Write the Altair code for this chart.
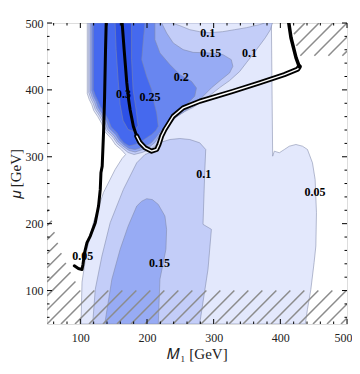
import altair as alt
import pandas as pd

# ---------------- values (data units: M1, mu in GeV) ----------------
LIGHT = [(110.4, 500), (386.6, 500), (388.5, 300.9), (391, 308.4), (398.5, 306), (406, 310.9),
         (413.4, 315.8), (423.4, 318.4), (433.3, 315.8), (440.7, 310.9), (448.2, 291), (452.2, 266.1),
         (454.2, 216.4), (453.3, 166.6), (450.7, 142.2), (445.8, 101.9), (440.7, 72.1), (437.5, 50),
         (101, 50), (102.5, 112.7), (110, 162), (119.9, 202.7), (134.8, 246.7), (152.2, 281),
         (162.7, 297.5), (167.9, 303.4), (161.9, 310.2), (153, 317.6), (147, 326.6), (136.6, 337.8),
         (132.1, 349.7), (126.1, 360.2), (120.1, 369.1), (117.2, 378), (113.4, 385.5), (110.4, 394.5)]

LOW10 = [(118.5, 50), (122.4, 102), (132.4, 151.6), (144.8, 201.5), (164.6, 251.2), (184.6, 291),
         (197, 303.4), (207.5, 307.2), (216.4, 314.6), (222.4, 322.1), (234.3, 325.8), (249.3, 327.3),
         (264.2, 325.8), (279.1, 320.9), (288.1, 310.9), (286.6, 276.6), (284, 199), (296.6, 191.5),
         (291.5, 131.8), (279, 50)]

LOW15 = [(136.6, 50), (147.3, 116.9), (159.7, 161.7), (171.6, 196), (184.6, 226.3), (192, 233.5),
         (199.5, 237.3), (208, 236), (216.9, 228.8), (226.9, 211.4), (229.4, 191.5), (228.4, 161.7),
         (219.4, 116.9), (216.9, 50)]

UP10 = [(112.7, 500), (112.7, 396), (115.7, 387), (119.4, 379.6), (122.4, 370.6), (128.4, 361.7),
        (134.3, 351.3), (138.8, 339.3), (149.3, 328.9), (155.2, 319.9), (164.2, 312.4), (171.6, 306.4),
        (180.6, 303.4), (192.5, 306.4), (204.5, 310.9), (213.4, 316.9), (219.4, 327.3), (226.9, 339.3),
        (234.3, 349.7), (244.8, 360.2), (256.7, 367.6), (268.7, 373.6), (279.1, 380.3), (294, 391.5),
        (309, 403.4), (323.9, 413.9), (338.8, 427.3), (349.2, 440.7), (359.7, 454.2), (368.7, 466.1),
        (377.6, 478.1), (385.1, 490), (388.1, 500)]

NOTCH = [(237.3, 500), (249.3, 496), (264.2, 490), (279.1, 487), (294, 485.5), (313.4, 487),
         (331.3, 490), (349.2, 493), (368.7, 497.5), (376.1, 500)]

UP15 = [(114.9, 500), (221.9, 500), (229.4, 485.1), (239.3, 470.2), (254.2, 460.2), (269.1, 456.1),
        (294, 455.2), (313.9, 452.7), (326.4, 445.2), (328.8, 435.2), (323.9, 425.4), (311.5, 415.4),
        (296.6, 403), (284, 390.4), (274.2, 380.3), (264.2, 373.6), (253.7, 366.1), (241.8, 357.9),
        (231.3, 348.2), (223.9, 339.3), (217.2, 329.6), (211.9, 321.3), (204.5, 315.4), (194, 310.9),
        (182.1, 307.2), (173.1, 309.4), (165.7, 314.6), (156.7, 322.1), (150.7, 331), (141, 340.8),
        (136.6, 352.7), (130.6, 363.1), (124.6, 372.1), (121.6, 381), (117.9, 388.5), (114.9, 397.5)]

UP20 = [(117.2, 500), (211.9, 500), (211.9, 475.1), (219.4, 455.2), (234.3, 437.8), (249.3, 422.8),
        (266.7, 412.8), (274.2, 403), (271.6, 390.4), (259.2, 378.1), (244.3, 365.7), (234.3, 355.7),
        (226.9, 345.7), (219.4, 337), (213.4, 328.8), (206, 320.6), (194, 314.6), (182.1, 310.9),
        (173.1, 312.4), (165.7, 317.6), (158.2, 325.1), (153, 333.3), (143.3, 342.8), (138.8, 354.2),
        (132.8, 364.6), (126.9, 373.6), (123.9, 382.5), (120.1, 390), (117.2, 399)]

UP25 = [(119.4, 500), (197, 500), (194.5, 475.1), (192.1, 445.2), (199.5, 420.3), (207, 400.4),
        (209.4, 385.5), (214.5, 365.7), (216.9, 345.7), (213.4, 339.3), (207, 333.3), (199.5, 328.4),
        (192.1, 323.3), (182.1, 318.4), (173.1, 316.1), (165.7, 320.6), (159.7, 327.3), (155.2, 335.5),
        (146.3, 344.5), (141.8, 355.7), (135.8, 366.1), (129.9, 375.1), (126.1, 384), (122.4, 391.5),
        (119.4, 400.4)]

UP30 = [(152.2, 500), (176.9, 500), (176.9, 445.2), (179.1, 400.4), (183.6, 370.6), (186.6, 346.7),
        (180.6, 337.8), (171.6, 340.8), (164.2, 354.2), (159.7, 378), (156.7, 415.4), (153.7, 460.2)]

LINE_A = [(138.8, 500), (137.8, 460.2), (136.3, 385.5), (134.8, 335.8), (132.8, 286), (130.9, 276),
          (129.9, 251.2), (127.3, 226.3), (122.4, 201.5), (114.9, 181.5), (110, 171.6), (106.4, 156.7),
          (104, 139.3), (102.5, 131.5), (97, 133), (91, 137)]

LINE_B_TOP = [(162.7, 500), (165.7, 460.2), (169.7, 410.4), (172.4, 385.5), (174.6, 370.6),
              (179.5, 345.7), (184.6, 330.8)]
LINE_B_LOOP = [(184.6, 330.8), (189.5, 321.3), (197, 313.4), (207, 308.4), (214.5, 310.9),
               (217.9, 318.4), (221.9, 330.8), (226.9, 340.8), (239.3, 360.6), (254.2, 373.1),
               (279.1, 383), (328.8, 397.9), (368.7, 410.4), (406, 422.8), (426.1, 431), (428.4, 434.8)]
LINE_B_RIGHT = [(428.4, 434.8), (423.5, 448.2), (416, 478), (412.7, 500)]

HATCH_LOW = [(50, 50), (500, 50), (500, 100), (100, 100), (85, 128), (73, 152), (63, 180),
             (55, 214), (50, 228)]
HATCH_TOP = [(417, 500), (500, 500), (500, 451), (427, 451)]
HATCH_STEP = 21

LABEL_TEXT = ["0.1", "0.15", "0.1", "0.2", "0.25", "0.3", "0.1", "0.05", "0.05", "0.15"]
LABEL_X = [291, 295.5, 353.7, 251.5, 204.5, 164.9, 285, 452, 103.7, 218.7]
LABEL_Y = [485.5, 455.7, 455.7, 419.9, 390, 394.5, 275, 248, 151, 140.8]

X_MAJOR = [100, 200, 300, 400, 500]
Y_MAJOR = [100, 200, 300, 400, 500]
X_MINOR = [60, 80, 120, 140, 160, 180, 220, 240, 260, 280, 320, 340, 360, 380, 420, 440, 460, 480]
Y_MINOR = [60, 80, 120, 140, 160, 180, 220, 240, 260, 280, 320, 340, 360, 380, 420, 440, 460, 480]

C05, C10, C15, C20, C25, C30 = "#e3e8fc", "#c3cdf8", "#97abf4", "#6886f0", "#4569ee", "#2d51e6"

# ---------------- chart ----------------
W, H = 300, 301
FONT = "Liberation Serif"
xs = alt.Scale(domain=[50, 500], nice=False, zero=False)
ys = alt.Scale(domain=[50, 500], nice=False, zero=False)
xaxis = alt.Axis(values=X_MAJOR, title="𝑀₁  [GeV]", ticks=False, tickSize=0, domain=False, grid=False,
                 labelFont=FONT, labelFontSize=12, labelPadding=8, labelColor="#222",
                 titleFont=FONT, titleFontSize=15, titleFontWeight="normal", titleColor="#222",
                 titlePadding=3, labelFlush=True, labelFlushOffset=5)
yaxis = alt.Axis(values=Y_MAJOR, title="𝜇 [GeV]", ticks=False, tickSize=0, domain=False, grid=False,
                 labelFont=FONT, labelFontSize=12, labelPadding=4, labelColor="#222",
                 titleFont=FONT, titleFontSize=15, titleFontWeight="normal", titleColor="#222",
                 titlePadding=2, labelFlush=False)
X = alt.X("x:Q", scale=xs, axis=xaxis)
Y = alt.Y("y:Q", scale=ys, axis=yaxis)


def frame(pts):
    return pd.DataFrame({"x": [p[0] for p in pts], "y": [p[1] for p in pts], "i": list(range(len(pts)))})


def poly(pts, fill):
    return alt.Chart(frame(pts)).mark_line(
        interpolate="linear-closed", fill=fill, stroke="#7f89a8", strokeWidth=0.7,
        strokeOpacity=0.8, clip=True
    ).encode(x=X, y=Y, order="i:Q")


def curve(pts, width, color="black"):
    return alt.Chart(frame(pts)).mark_line(
        color=color, strokeWidth=width, clip=True, strokeCap="round", strokeJoin="round"
    ).encode(x=X, y=Y, order="i:Q")


def hatch_segments(region, step):
    rows = []
    n = len(region)
    for k in range(-40, 40):
        c = k * step  # line y = x + c
        ts = []
        for j in range(n):
            (x1, y1), (x2, y2) = region[j], region[(j + 1) % n]
            f1, f2 = y1 - x1 - c, y2 - x2 - c
            if (f1 > 0) != (f2 > 0):
                t = f1 / (f1 - f2)
                ts.append(x1 + t * (x2 - x1))
        ts.sort()
        for a, b in zip(ts[0::2], ts[1::2]):
            rows.append({"x": a, "y": a + c, "x2": b, "y2": b + c})
    return rows


hatch_df = pd.DataFrame(hatch_segments(HATCH_LOW, HATCH_STEP) + hatch_segments(HATCH_TOP, HATCH_STEP))
hatch = alt.Chart(hatch_df).mark_rule(color="#8c8c8c", strokeWidth=1.5, clip=True).encode(
    x=X, y=Y, x2="x2:Q", y2="y2:Q")

labels = alt.Chart(pd.DataFrame({"x": LABEL_X, "y": LABEL_Y, "t": LABEL_TEXT})).mark_text(
    font=FONT, fontSize=12, fontWeight="bold", color="black"
).encode(x=X, y=Y, text="t:N")


def xticks(vals, ln):
    d = pd.DataFrame({"x": vals})
    base = alt.Chart(d).mark_rule(color="black", strokeWidth=1)
    return [base.encode(x=X, y=alt.value(H), y2=alt.value(H - ln)),
            base.encode(x=X, y=alt.value(0), y2=alt.value(ln))]


def yticks(vals, ln):
    d = pd.DataFrame({"y": vals})
    base = alt.Chart(d).mark_rule(color="black", strokeWidth=1)
    return [base.encode(y=Y, x=alt.value(0), x2=alt.value(ln)),
            base.encode(y=Y, x=alt.value(W), x2=alt.value(W - ln))]


layers = [
    poly(LIGHT, C05), poly(LOW10, C10), poly(LOW15, C15),
    poly(UP10, C10), poly(NOTCH, C05), poly(UP15, C15), poly(UP20, C20), poly(UP25, C25), poly(UP30, C30),
    hatch,
    curve(LINE_A, 3), curve(LINE_B_TOP, 3), curve(LINE_B_LOOP, 5), curve(LINE_B_LOOP, 1.4, "white"),
    curve(LINE_B_RIGHT, 3.5),
    labels,
] + xticks(X_MAJOR, 5) + xticks(X_MINOR, 2.5) + yticks(Y_MAJOR, 5) + yticks(Y_MINOR, 2.5)

chart = alt.layer(*layers).properties(
    width=W, height=H,
    autosize=alt.AutoSizeParams(type="none"),
    padding={"left": 39, "top": 15, "right": 5, "bottom": 38},
).configure_view(stroke="black", strokeWidth=1.2).configure(background="white")

chart.save("out.html", embed_options={"renderer": "svg", "actions": False})
